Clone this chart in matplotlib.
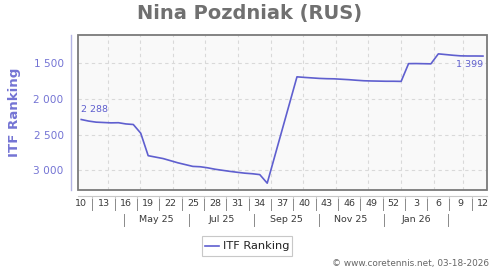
import matplotlib
matplotlib.use("Agg")
import matplotlib.pyplot as plt
import matplotlib.dates as mdates
import matplotlib.transforms as mtransforms
from matplotlib.patches import Rectangle
from matplotlib.lines import Line2D
import datetime as dt

# ---------------- data ----------------
title = "Nina Pozdniak (RUS)"
series_name = "ITF Ranking"
# week offsets from ISO week 10 of 2025 (0 = week 10, 2025)
week_idx = [0, 1, 2, 3, 4, 5, 6, 7, 8, 9, 10, 11, 12, 13, 14, 15, 16, 17, 18, 19,
            20, 21, 22, 23, 24, 25, 29, 30, 31, 32, 33, 34, 35, 36, 37, 38, 39, 40,
            41, 42, 43, 44, 45, 46, 47, 48, 49, 50, 51, 52, 53, 54]
ranking = [2288, 2310, 2325, 2330, 2335, 2333, 2350, 2358, 2480, 2795, 2815, 2835,
           2865, 2895, 2920, 2945, 2950, 2965, 2985, 3000, 3015, 3028, 3040, 3048,
           3060, 3180, 1690, 1698, 1705, 1712, 1716, 1718, 1724, 1730, 1738, 1745,
           1748, 1750, 1752, 1752, 1754, 1505, 1504, 1506, 1508, 1368, 1378, 1388,
           1396, 1398, 1398, 1399]
first_label, last_label = "2 288", "1 399"
y_ticks = [1500, 2000, 2500, 3000]
y_tick_labels = ["1 500", "2 000", "2 500", "3 000"]
week_labels = ["10", "13", "16", "19", "22", "25", "28", "31", "34", "37", "40",
               "43", "46", "49", "52", "3", "6", "9", "12"]
month_labels = ["May 25", "Jul 25", "Sep 25", "Nov 25", "Jan 26"]
copyright_text = "\u00a9 www.coretennis.net, 03-18-2026"

# ---------------- styling ----------------
W, H = 500, 270
LINE_C = "#5f5fcf"
TICK_C = "#7474d4"
TXT_C = "#3a3a3a"
base = dt.datetime(2025, 3, 3)  # Monday of ISO week 10, 2025

def fx(px):
    return px / W

def fy(py):
    return 1 - py / H

def week_center(k):
    return base + dt.timedelta(days=7 * k + 3.5)

fig = plt.figure(figsize=(5, 2.7), dpi=100)
fig.patch.set_facecolor("white")
L, R, T, B = 78.3, 487.0, 35.3, 190.3
ax = fig.add_axes([fx(L), fy(B), fx(R - L), (B - T) / H])
ax.set_facecolor("#f9f9f9")

xs = [week_center(k) for k in week_idx]
ax.plot(xs, ranking, color=LINE_C, lw=1.2, zorder=3, solid_joinstyle="round")

ax.set_xlim(base + dt.timedelta(days=0.75), base + dt.timedelta(days=385.3))
ax.set_ylim(3280, 1108)

# grid: monthly vertical, ranking horizontal
ax.xaxis.set_major_locator(mdates.MonthLocator(bymonthday=1))
ax.xaxis.set_major_formatter(plt.NullFormatter())
ax.set_yticks(y_ticks)
ax.set_yticklabels(y_tick_labels)
ax.grid(True, color="#d9d9d9", ls=(0, (3, 3)), lw=0.8)
ax.set_axisbelow(True)
ax.tick_params(axis="x", which="major", length=0)
ax.tick_params(axis="y", length=0, pad=5.5, labelsize=7.6, labelcolor=TICK_C)

# week separator ticks (minor) on offset bottom axis
sep_days = [14 + 21 * j for j in range(len(week_labels) - 1)]
sep_dates = [base + dt.timedelta(days=d) for d in sep_days]
ax.set_xticks(sep_dates, minor=True)
ax.tick_params(axis="x", which="minor", length=3, color="#cccccc", width=0.8)
ax.xaxis.set_minor_formatter(plt.NullFormatter())

for s in ["top", "right"]:
    ax.spines[s].set_visible(False)
ax.spines["left"].set_position(("outward", 5))
ax.spines["left"].set_color("#b4b4e4")
ax.spines["left"].set_linewidth(1.0)
ax.spines["bottom"].set_position(("outward", 4))
ax.spines["bottom"].set_color("#c8c8c8")
ax.spines["bottom"].set_linewidth(0.8)

# frame
ax.add_patch(Rectangle((0, 0), 1, 1, transform=ax.transAxes, fill=False,
                       edgecolor="#7a7a7a", lw=1.3, zorder=5, clip_on=False))

ax.set_ylabel(series_name, color=TICK_C, fontsize=9.6, fontweight="bold")
ax.yaxis.set_label_coords((21 - L) / (R - L), 0.5)

# value annotations
ax.annotate(first_label, (xs[0], ranking[0]), xytext=(0, 4), textcoords="offset points",
            ha="left", va="bottom", fontsize=6.8, color=LINE_C)
ax.annotate(last_label, (xs[-1], ranking[-1]), xytext=(0, -3), textcoords="offset points",
            ha="right", va="top", fontsize=6.8, color=LINE_C)

# week labels & separators
trans = mtransforms.blended_transform_factory(ax.transData, fig.transFigure)
for i, lab in enumerate(week_labels):
    ax.text(base + dt.timedelta(days=3.5 + 21 * i), fy(203.5), lab, transform=trans,
            ha="center", va="center", fontsize=6.8, color=TXT_C, clip_on=False)
for d in sep_dates:
    ax.add_line(Line2D([d, d], [fy(198.5), fy(209.5)], transform=trans, color="#8a8a8a",
                       lw=0.7, clip_on=False))

# month labels & separators
month_seps = [dt.datetime(2025, 4, 16), dt.datetime(2025, 6, 16), dt.datetime(2025, 8, 16),
              dt.datetime(2025, 10, 16), dt.datetime(2025, 12, 16), dt.datetime(2026, 2, 15)]
for d in month_seps:
    ax.add_line(Line2D([d, d], [fy(214), fy(226)], transform=trans, color="#8a8a8a",
                       lw=0.7, clip_on=False))
for i, lab in enumerate(month_labels):
    mid = month_seps[i] + (month_seps[i + 1] - month_seps[i]) / 2
    ax.text(mid, fy(220), lab, transform=trans, ha="center", va="center",
            fontsize=6.8, color=TXT_C, clip_on=False)

# title
fig.text(0.5, fy(13.5), title, ha="center", va="center", fontsize=14,
         fontweight="bold", color="#707070")

# legend (manual)
fig.patches.append(Rectangle((fx(202), fy(256)), fx(90.3), (256 - 236) / H,
                             transform=fig.transFigure, fill=True, facecolor="white",
                             edgecolor="#c8c8c8", lw=0.8))
fig.lines.append(Line2D([fx(204.5), fx(219)], [fy(246), fy(246)], transform=fig.transFigure,
                        color=LINE_C, lw=1.2))
fig.text(fx(223), fy(246), series_name, ha="left", va="center", fontsize=8.2, color="#222222")

# copyright
fig.text(fx(488.5), fy(263.5), copyright_text, ha="right", va="center", fontsize=6.4,
         color="#666666")

fig.savefig("out.png", dpi=100)
